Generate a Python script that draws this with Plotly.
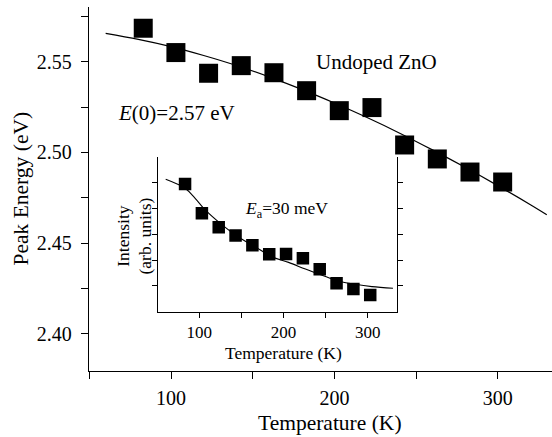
import plotly.graph_objects as go

# ---- data ----
temp_main = [83, 103, 123, 143, 163, 183, 203, 223, 243, 263, 283, 303]
peak_energy = [2.5684, 2.5550, 2.5436, 2.5478, 2.5439, 2.5340, 2.5230, 2.5247,
               2.5041, 2.4964, 2.4892, 2.4837]
fit_temp = [60, 80, 100, 120, 140, 160, 180, 200, 220, 240, 260, 280, 300, 320, 330]
fit_energy = [2.5656, 2.5623, 2.5583, 2.5534, 2.5479, 2.5416, 2.5347, 2.5272,
              2.5192, 2.5106, 2.5014, 2.4918, 2.4817, 2.4712, 2.4657]

temp_inset = [83, 103, 123, 143, 163, 183, 203, 223, 243, 263, 283, 303]
intensity = [4.94, 3.81, 3.27, 2.95, 2.57, 2.22, 2.23, 2.07, 1.64, 1.10, 0.88, 0.65]
fit_inset_temp = [60, 83, 95, 107, 127, 146, 166, 186, 206, 226, 245, 265, 285, 305, 330]
fit_inset_int = [5.13, 4.78, 4.39, 3.94, 3.36, 2.90, 2.52, 2.13, 1.91, 1.65, 1.42,
                 1.19, 1.06, 0.97, 0.91]

main_xticks = [100, 200, 300]
main_xlabels = ["100", "200", "300"]
main_yticks = [2.40, 2.45, 2.50, 2.55]
main_ylabels = ["2.40", "2.45", "2.50", "2.55"]
inset_xticks = [100, 200, 300]
inset_xlabels = ["100", "200", "300"]
inset_yticks = [1, 2, 3, 4, 5]

FONT = "Liberation Serif"

fig = go.Figure()
fig.add_trace(go.Scatter(x=fit_temp, y=fit_energy, mode="lines",
                         line=dict(color="black", width=1.2, shape="spline"),
                         xaxis="x", yaxis="y", showlegend=False))
fig.add_trace(go.Scatter(x=temp_main, y=peak_energy, mode="markers",
                         marker=dict(symbol="square", size=19, color="black"),
                         xaxis="x", yaxis="y", showlegend=False))
fig.add_trace(go.Scatter(x=fit_inset_temp, y=fit_inset_int, mode="lines",
                         line=dict(color="black", width=1.1, shape="spline"),
                         xaxis="x2", yaxis="y2", showlegend=False))
fig.add_trace(go.Scatter(x=temp_inset, y=intensity, mode="markers",
                         marker=dict(symbol="square", size=12.5, color="black"),
                         xaxis="x2", yaxis="y2", showlegend=False))

L, T, B = 89, 7, 66
W, H = 552, 437
pw = W - L
ph = H - T - B

def px_x(p):
    return (p - L) / pw

def px_y(p):
    return (H - B - p) / ph

inset_dom_x = [px_x(157.7), px_x(397.0)]
inset_dom_y = [px_y(311.7), px_y(156.7)]

axis_common = dict(showgrid=False, zeroline=False, color="black",
                   linecolor="black", tickcolor="black")

fig.update_layout(
    width=W, height=H,
    margin=dict(l=L, r=0, t=T, b=B, pad=0),
    paper_bgcolor="white", plot_bgcolor="white",
    font=dict(family=FONT, color="black", size=20),
    xaxis=dict(**axis_common, range=[49.8, 333.2], domain=[0, 1], anchor="y",
               showline=True, linewidth=1.3, ticks="outside", ticklen=7, tickwidth=1.2,
               tickmode="array", tickvals=main_xticks, ticktext=main_xlabels,
               ticklabelstandoff=2,
               minor=dict(ticks="outside", ticklen=7, tickwidth=1.2, tickcolor="black",
                          tick0=0, dtick=50),
               tickfont=dict(size=20, family=FONT)),
    xaxis3=dict(**axis_common, range=[49.8, 333.2], overlaying="x", side="top",
                anchor="y", showline=True, linewidth=1.3, ticks="inside", ticklen=4,
                tickwidth=1.2, tick0=0, dtick=50, showticklabels=False),
    yaxis=dict(**axis_common, range=[2.3796, 2.5801], domain=[0, 1], anchor="x",
               showline=True, linewidth=1.3, ticks="outside", ticklen=7, tickwidth=1.2,
               tickmode="array", tickvals=main_yticks, ticktext=main_ylabels,
               ticklabelstandoff=5,
               minor=dict(ticks="outside", ticklen=7, tickwidth=1.2, tickcolor="black",
                          tick0=2.4, dtick=0.025),
               tickfont=dict(size=20, family=FONT)),
    xaxis2=dict(**axis_common, range=[50.5, 334.8], domain=inset_dom_x, anchor="y2",
                showline=True, linewidth=1.0, ticks="outside", ticklen=5, tickwidth=1.0,
                tickmode="array", tickvals=inset_xticks, ticktext=inset_xlabels,
                minor=dict(ticks="outside", ticklen=5, tickwidth=1.0, tickcolor="black",
                           tick0=0, dtick=50),
                tickfont=dict(size=17, family=FONT)),
    xaxis4=dict(**axis_common, range=[50.5, 334.8], overlaying="x2", side="top",
                anchor="y2", showline=True, linewidth=1.0, ticks="inside", ticklen=4,
                tickwidth=1.0, tick0=0, dtick=50, showticklabels=False),
    yaxis2=dict(**axis_common, range=[0, 6], domain=inset_dom_y, anchor="x2",
                showline=True, mirror="ticks", linewidth=1.0, ticks="outside",
                ticklen=5, tickwidth=1.0, tickmode="array", tickvals=inset_yticks,
                showticklabels=False),
)

annotations = [
    dict(text="Temperature (K)", xref="paper", yref="paper", x=px_x(330), y=px_y(423),
         xanchor="center", yanchor="middle", showarrow=False,
         font=dict(size=21.5, family=FONT)),
    dict(text="Peak Energy (eV)", xref="paper", yref="paper", x=px_x(20.5), y=px_y(189),
         xanchor="center", yanchor="middle", showarrow=False, textangle=-90,
         font=dict(size=21.5, family=FONT)),
    dict(text="Undoped ZnO", xref="x", yref="y", x=225.8, y=2.5498,
         xanchor="center", yanchor="middle", showarrow=False,
         font=dict(size=21, family=FONT)),
    dict(text="<i>E</i>(0)=2.57 eV", xref="x", yref="y", x=103.5, y=2.5216,
         xanchor="center", yanchor="middle", showarrow=False,
         font=dict(size=21, family=FONT)),
    dict(text="<i>E</i><sub>a</sub>=30 meV", xref="x2", yref="y2", x=203.8, y=3.94,
         xanchor="center", yanchor="middle", showarrow=False,
         font=dict(size=17.5, family=FONT)),
    dict(text="Temperature (K)", xref="paper", yref="paper", x=px_x(283.4), y=px_y(352.5),
         xanchor="center", yanchor="middle", showarrow=False,
         font=dict(size=17.5, family=FONT)),
    dict(text="Intensity<br>(arb. units)", xref="paper", yref="paper", x=px_x(133.5),
         y=px_y(236), xanchor="center", yanchor="middle", showarrow=False,
         textangle=-90, font=dict(size=17.5, family=FONT)),
]
fig.update_layout(annotations=annotations)

fig.write_html("out.html", config={"displayModeBar": False},
               post_script="document.body.style.margin='0';document.body.style.overflow='hidden';")
